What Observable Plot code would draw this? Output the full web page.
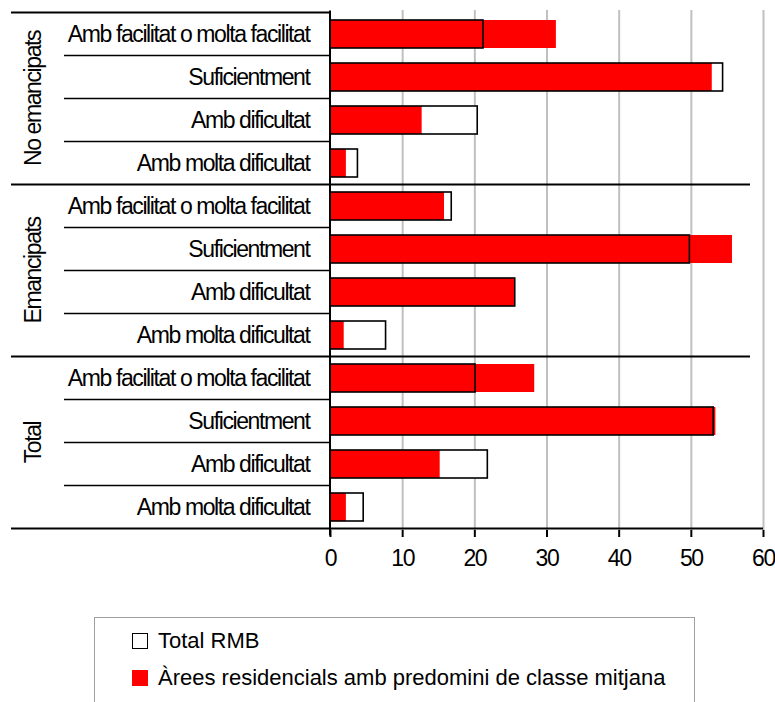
<!DOCTYPE html>
<html>
<head>
<meta charset="utf-8">
<script src="https://cdn.jsdelivr.net/npm/d3@7"></script>
<script src="https://cdn.jsdelivr.net/npm/@observablehq/plot@0.6"></script>
<style>
  html, body { margin: 0; padding: 0; background: #fff; }
  body { width: 775px; height: 702px; position: relative; overflow: hidden;
         font-family: 'Liberation Sans', Arial, sans-serif; }
  #chart { position: absolute; left: 0; top: 0; }
  #chart text { letter-spacing: -1.4px; }
  #legend { position: absolute; left: 94px; top: 617px; width: 601px; height: 120px;
            border: 1.5px solid #a0a0a0; box-sizing: border-box; background: #fff; }
  .item { position: absolute; left: 37px; display: flex; align-items: center;
          font-size: 22px; color: #000; white-space: nowrap; letter-spacing: 0px; }
  .sw { width: 16px; height: 16px; box-sizing: border-box; margin-right: 10px; }
</style>
</head>
<body>
<div id="chart"></div>
<div id="legend"></div>
<script>
const groups = ["No emancipats", "Emancipats", "Total"];
const categories = ["Amb facilitat o molta facilitat", "Suficientment", "Amb dificultat", "Amb molta dificultat"];
const seriesNames = ["Total RMB", "Àrees residencials amb predomini de classe mitjana"];
// values in group order, then category order
const totalRMB = [21.2, 54.4, 20.4, 3.8, 16.8, 49.8, 25.6, 7.7, 20.1, 53.1, 21.8, 4.6];
const classeMitjana = [31.3, 52.9, 12.7, 2.2, 15.8, 55.7, 25.6, 1.9, 28.3, 53.4, 15.2, 2.2];
const xTicks = [0, 10, 20, 30, 40, 50, 60];

const FONT = "'Liberation Sans', Arial, sans-serif";

const rows = [];
groups.forEach((g, gi) => categories.forEach((c, ci) => {
  const i = gi * categories.length + ci;
  rows.push({key: g + "|" + c, group: g, category: c, total: totalRMB[i], mitjana: classeMitjana[i]});
}));
const keys = rows.map(d => d.key);

const structure = (index, scales, values, dims) => {
  const y = scales.y;
  const step = y(keys[1]) - y(keys[0]);
  const off = step * 0.175;
  const bnd = keys.map(k => y(k) - off);
  bnd.push(y(keys[keys.length - 1]) + step - off);
  const left = dims.marginLeft;
  const right = dims.width - dims.marginRight;
  const g = d3.create("svg:g");
  const line = (x1, x2, yy, w) => g.append("line")
    .attr("x1", x1).attr("x2", x2).attr("y1", yy).attr("y2", yy)
    .attr("stroke", "#000").attr("stroke-width", w);
  const n = categories.length;
  bnd.forEach((b, i) => {
    if (i === 0) line(11, left, b, 2);
    else if (i === bnd.length - 1) line(11, right, b, 2);
    else if (i % n === 0) line(11, 750, b, 2);
    else line(64, left, b, 1.6);
  });
  g.append("line").attr("x1", left).attr("x2", left)
    .attr("y1", bnd[0] - 2).attr("y2", bnd[bnd.length - 1] + 7)
    .attr("stroke", "#000").attr("stroke-width", 2);
  groups.forEach((grp, gi) => {
    const cy = (bnd[gi * n] + bnd[(gi + 1) * n]) / 2;
    g.append("text")
      .attr("transform", `translate(33,${cy}) rotate(-90)`)
      .attr("text-anchor", "middle").attr("dominant-baseline", "central")
      .attr("font-family", FONT).attr("font-size", 23).attr("fill", "#000")
      .text(grp);
  });
  return g.node();
};

const chart = Plot.plot({
  width: 775,
  height: 612,
  marginLeft: 330,
  marginRight: 12,
  marginTop: 10,
  marginBottom: 82,
  style: {fontFamily: FONT, fontSize: "23px", color: "#000", background: "#fff", overflow: "visible"},
  x: {domain: [0, 60], ticks: xTicks},
  y: {domain: keys, paddingInner: 0.35, paddingOuter: 0.175, axis: null},
  marks: [
    Plot.gridX(xTicks.slice(1), {stroke: "#c0c0c0", strokeOpacity: 1, strokeWidth: 2}),
    Plot.barX(rows, {x: "total", y: "key", fill: "#fff"}),
    Plot.barX(rows, {x: "mitjana", y: "key", fill: "#ff0000"}),
    Plot.barX(rows, {x: "total", y: "key", fill: "none", stroke: "#000", strokeWidth: 1.6}),
    Plot.text(rows, {y: "key", text: "category", frameAnchor: "left", dx: -21, textAnchor: "end", fill: "#000", fontSize: 23}),
    structure,
    Plot.axisX({ticks: xTicks, tickSize: 7, tickPadding: 12, tickFormat: d => String(d), label: null, stroke: "#000", strokeWidth: 2, fontSize: 23})
  ]
});
document.getElementById("chart").appendChild(chart);

const legend = d3.select("#legend");
const items = [
  {name: seriesNames[0], fill: "#fff", stroke: "1.5px solid #000", top: 10},
  {name: seriesNames[1], fill: "#ff0000", stroke: "none", top: 47}
];
items.forEach(it => {
  const row = legend.append("div").attr("class", "item").style("top", it.top + "px");
  row.append("div").attr("class", "sw").style("background", it.fill).style("border", it.stroke);
  row.append("span").text(it.name);
});
</script>
</body>
</html>
